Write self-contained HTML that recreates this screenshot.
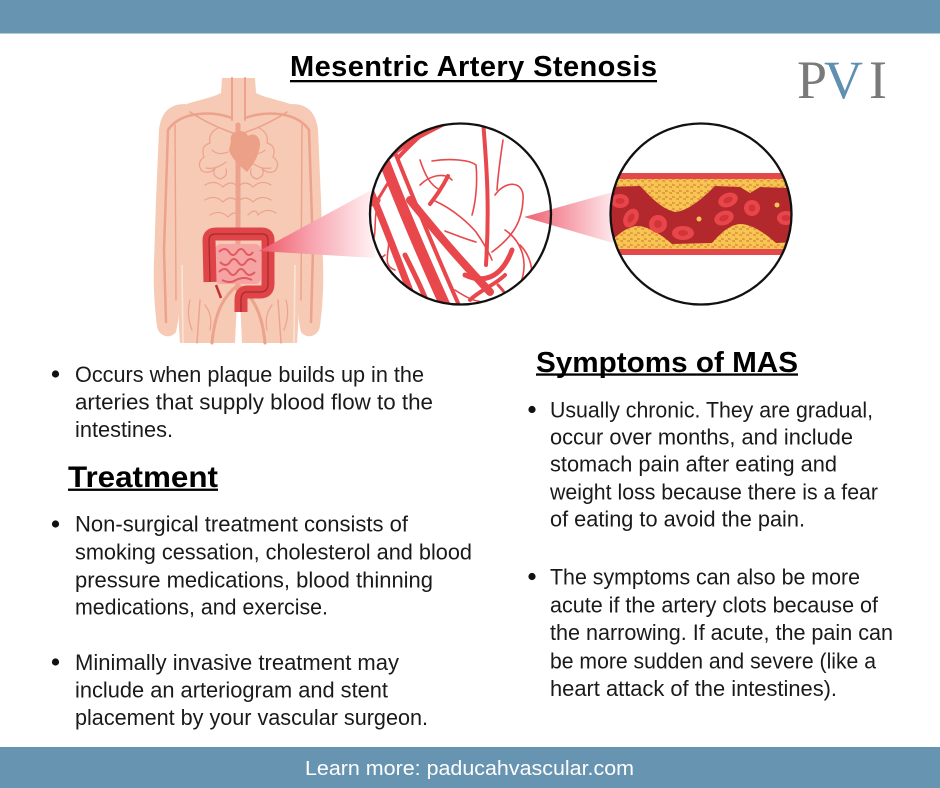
<!DOCTYPE html>
<html>
<head>
<meta charset="utf-8">
<style>
  html,body{margin:0;padding:0;background:#fff;}
  body{width:940px;height:788px;overflow:hidden;}
  svg{display:block;}
  .t{font-family:"Liberation Sans",Arial,sans-serif;font-size:22px;fill:#1a1a1a;}
  .h{font-family:"Liberation Sans",Arial,sans-serif;font-weight:700;fill:#000;}
</style>
</head>
<body>
<svg width="940" height="788" viewBox="0 0 940 788" xmlns="http://www.w3.org/2000/svg">
  <defs>
    <linearGradient id="beam1" x1="259" y1="0" x2="374" y2="0" gradientUnits="userSpaceOnUse">
      <stop offset="0" stop-color="#ee5566"/>
      <stop offset="0.45" stop-color="#f7a3ae"/>
      <stop offset="1" stop-color="#fff2f4"/>
    </linearGradient>
    <linearGradient id="beam2" x1="524" y1="0" x2="612" y2="0" gradientUnits="userSpaceOnUse">
      <stop offset="0" stop-color="#f06070"/>
      <stop offset="0.5" stop-color="#f6a0ab"/>
      <stop offset="1" stop-color="#fde6ea"/>
    </linearGradient>
    <clipPath id="c1"><circle cx="460.5" cy="214" r="90"/></clipPath>
    <clipPath id="c2"><circle cx="701" cy="214" r="90"/></clipPath>
    <pattern id="pl" width="7" height="6" patternUnits="userSpaceOnUse">
      <rect width="7" height="6" fill="#e49a45"/>
      <circle cx="1.75" cy="1.5" r="2.6" fill="#f6c650"/>
      <circle cx="5.25" cy="4.5" r="2.6" fill="#f6c650"/>
    </pattern>
  </defs>

  <rect width="940" height="788" fill="#fff"/>
  <rect x="0" y="0" width="940" height="33.5" fill="#6794b0"/>
  <rect x="0" y="747" width="940" height="41" fill="#6794b0"/>

  <!-- Title -->
  <text class="h" x="290" y="76" font-size="29" textLength="367" lengthAdjust="spacing">Mesentric Artery Stenosis</text>
  <rect x="290" y="80" width="367" height="2.3" fill="#000"/>

  <!-- PVI logo -->
  <text x="797" y="98" font-family="'Liberation Serif','Times New Roman',serif" font-size="54"><tspan fill="#7a7a7a">P</tspan><tspan x="824" fill="#5f90b2">V</tspan><tspan x="869" fill="#7a7a7a">I</tspan></text>

  <!-- ===== Body figure ===== -->
  <g fill="#f6cab4">
    <path d="M185,104 C170,104 161,112 159,130 L156,200 L154,262 C153,290 155,310 157,326 C158,336 170,340 176,332 C179,320 180,300 181,285 L186,230 Z"/>
    <path d="M292,104 C307,104 316,112 318,130 L321,200 L323,262 C324,290 322,310 320,326 C319,336 307,340 301,332 C298,320 297,300 296,285 L291,230 Z"/>
    <path d="M222,78 L255,78 L256,93 C268,99 284,101 296,106 L296,230 C297,250 298,270 298,290 C299,310 298,330 297,343 L242,343 L240,300 L237,300 L235,343 L180,343 C179,330 178,310 179,290 C179,270 180,250 181,230 L181,106 C193,101 209,99 221,93 Z"/>
  </g>
  <g stroke="#fbe3d8" stroke-width="1.6" fill="none">
    <path d="M182,265 L183,343"/>
    <path d="M295,265 L294,343"/>
  </g>
  <g stroke="#eca28c" fill="none" stroke-linecap="round">
    <path d="M238,125 L238,290" stroke-width="5"/>
    <path d="M232,78 L232,120 M245,78 L245,120" stroke-width="2"/>
    <path d="M232,118 C210,110 180,112 168,130 L164,250 L166,322" stroke-width="2.5"/>
    <path d="M245,118 C267,110 297,112 309,130 L313,250 L311,322" stroke-width="2.5"/>
    <path d="M175,125 L176,300 M302,125 L301,300" stroke-width="1.4"/>
    <path d="M238,285 C225,295 215,310 212,343 M238,285 C251,295 262,310 265,343" stroke-width="3"/>
    <path d="M200,300 L197,343 M278,300 L281,343" stroke-width="1.4"/>
    <path d="M190,112 C210,125 225,130 238,135 M287,112 C267,125 252,130 238,135" stroke-width="1.6"/>
    <g stroke-width="1.2">
      <path d="M218,128 q-10,5 -8,15 q-10,3 -6,14 q-8,6 -2,14 q8,4 14,-4 q-6,8 4,12 q8,-2 6,-10 M212,150 q6,6 16,2 M206,168 q10,2 20,-6"/>
      <path d="M259,128 q10,5 8,15 q10,3 6,14 q8,6 2,14 q-8,4 -14,-4 q6,8 -4,12 q-8,-2 -6,-10 M265,150 q-6,6 -16,2 M271,168 q-10,2 -20,-6"/>
      <path d="M205,185 q10,-6 18,2 q8,-8 15,0 q7,-8 15,0 q8,-8 18,-2 M205,200 q10,-6 18,2 q8,-8 15,0 q7,-8 15,0 q8,-8 18,-2 M210,215 q10,-6 18,2 q8,-8 10,0 M248,215 q8,-8 10,0 q8,-8 18,-2"/>
      <path d="M190,300 q-4,15 2,30 M286,300 q4,15 -2,30 M205,305 q8,10 5,25 M272,305 q-8,10 -5,25"/>
    </g>
  </g>
  <path d="M231,141 C228,131 244,127 248,136 C255,131 263,139 259,150 C257,160 251,167 247,172 C240,166 231,158 229,150 Z" fill="#eda088"/>
  <rect x="215" y="244" width="46" height="40" rx="6" fill="#f6a3a3"/>
  <path d="M219,252 q6,-6 10,0 q4,6 8,0 q4,-6 8,0 q4,6 8,0 M220,262 q6,6 10,0 q4,-6 8,0 q4,6 8,0 q4,-6 10,0 M219,272 q6,-6 10,0 q4,6 8,0 q4,-6 8,0 q4,6 10,0 M222,280 q8,4 14,0 q8,-4 16,0" stroke="#e05a5e" stroke-width="2" fill="none"/>
  <path d="M210,282 L209,240 Q209,234 216,234 L262,234 Q268,234 268,240 L268,284 Q268,292 260,292 L247,292 Q241,292 241,300 L241,312" stroke="#df4548" stroke-width="13" fill="none" stroke-linejoin="round"/>
  <path d="M210,282 L209,240 Q209,234 216,234 L262,234 Q268,234 268,240 L268,284 Q268,292 260,292 L247,292 Q241,292 241,300 L241,312" stroke="#a82a2c" stroke-width="1.3" fill="none"/>
  <path d="M216,285 L221,298" stroke="#c23234" stroke-width="2.5"/>

  <!-- Beam 1 -->
  <polygon points="259,251 375,188 375,258" fill="url(#beam1)"/>

  <!-- Circle 1 -->
  <circle cx="460.5" cy="214" r="90" fill="#fff"/>
  <g clip-path="url(#c1)" stroke="#e8484c" fill="none" stroke-linecap="round">
    <path d="M380,150 C395,190 420,250 448,312" stroke-width="11"/>
    <path d="M394,150 C410,190 432,245 462,312" stroke-width="4"/>
    <path d="M368,185 C385,225 400,265 418,312" stroke-width="7"/>
    <path d="M410,200 C430,225 455,255 490,292" stroke-width="8"/>
    <path d="M383,162 C405,140 435,128 458,116" stroke-width="6"/>
    <path d="M398,158 C412,142 428,130 440,116" stroke-width="4"/>
    <path d="M372,160 C380,150 388,140 398,130" stroke-width="4"/>
    <path d="M483,120 C486,160 490,200 486,265" stroke-width="4"/>
    <path d="M448,176 C442,188 436,196 430,204" stroke-width="4"/>
    <path d="M465,275 C480,282 500,282 512,250" stroke-width="5"/>
    <path d="M405,255 C415,275 425,295 432,315" stroke-width="5"/>
    <path d="M498,285 C505,292 510,300 514,312" stroke-width="3"/>
    <path d="M372,205 C380,200 385,185 392,178" stroke-width="3"/>
    <path d="M470,300 C480,290 495,285 505,275" stroke-width="4"/>
    <g stroke-width="1.6">
      <path d="M495,195 C505,180 525,180 523,200 C522,220 515,235 492,252"/>
      <path d="M432,161 C450,158 470,160 476,165 C478,185 475,205 472,215"/>
      <path d="M435,201 C455,210 470,225 476,232 C485,245 490,255 492,260"/>
      <path d="M445,231 C458,236 468,240 476,242"/>
      <path d="M380,200 C372,215 378,230 372,245 C368,255 378,262 385,255"/>
      <path d="M388,230 C392,250 380,265 395,270"/>
      <path d="M420,185 C430,175 445,172 452,180"/>
      <path d="M505,230 C520,240 530,260 520,285"/>
      <path d="M455,290 C470,300 480,305 500,300"/>
      <path d="M503,140 C500,160 498,175 497,190"/>
      <path d="M520,245 C530,255 535,270 530,290"/>
      <path d="M420,160 C425,175 430,185 440,190"/>
      <path d="M375,270 C385,280 395,285 402,300"/>
    </g>
  </g>
  <polygon points="524,217 613,192 613,243" fill="url(#beam2)"/>
  <circle cx="460.5" cy="214" r="90.5" fill="none" stroke="#111" stroke-width="2.3"/>

  <!-- Circle 2 -->
  <circle cx="701" cy="214" r="90" fill="#fff"/>
  <g clip-path="url(#c2)">
    <rect x="600" y="173" width="202" height="82" fill="#e3484b"/>
    <rect x="600" y="179" width="202" height="70" fill="#b2282d"/>
    <path d="M600,179 L802,179 L802,187 L790,188 L760,187 L750,193 L740,187 L715,186 C705,196 690,210 676,212 C662,210 650,196 640,186 L600,187 Z" fill="url(#pl)"/>
    <path d="M600,249 L802,249 L802,242 L776,243 C766,234 752,224 740,224 C728,225 718,236 712,243 L672,244 C662,235 648,226 637,226 C626,227 618,235 610,242 L600,243 Z" fill="url(#pl)"/>
    <g fill="#e8464b">
      <ellipse cx="620" cy="201" rx="9" ry="7"/>
      <ellipse cx="631" cy="218" rx="7" ry="10" transform="rotate(30 631 218)"/>
      <circle cx="658" cy="224" r="9"/>
      <ellipse cx="683" cy="233" rx="11" ry="7"/>
      <ellipse cx="728" cy="200" rx="10" ry="7" transform="rotate(-20 728 200)"/>
      <circle cx="752" cy="208" r="8"/>
      <ellipse cx="724" cy="218" rx="10" ry="7" transform="rotate(-20 724 218)"/>
      <ellipse cx="786" cy="218" rx="9" ry="7"/>
    </g>
    <g fill="#d1353a">
      <ellipse cx="620" cy="201" rx="4.5" ry="3"/>
      <ellipse cx="631" cy="218" rx="3" ry="5" transform="rotate(30 631 218)"/>
      <circle cx="658" cy="224" r="4"/>
      <ellipse cx="683" cy="233" rx="5" ry="3"/>
      <ellipse cx="728" cy="200" rx="5" ry="3" transform="rotate(-20 728 200)"/>
      <circle cx="752" cy="208" r="3.5"/>
      <ellipse cx="724" cy="218" rx="5" ry="3" transform="rotate(-20 724 218)"/>
      <ellipse cx="786" cy="218" rx="4.5" ry="3"/>
    </g>
    <circle cx="699" cy="219" r="2.5" fill="#f6c650"/>
    <circle cx="777" cy="205" r="2.5" fill="#f6c650"/>
  </g>
  <circle cx="701" cy="214" r="90.5" fill="none" stroke="#111" stroke-width="2.3"/>

  <!-- bullets -->
  <g fill="#111">
    <circle cx="55.5" cy="374" r="3.6"/>
    <circle cx="55.5" cy="524" r="3.6"/>
    <circle cx="55.5" cy="662" r="3.6"/>
    <circle cx="532" cy="409.5" r="3.6"/>
    <circle cx="532" cy="576.5" r="3.6"/>
  </g>

  <!-- Left column -->
  <text class="t" x="75" y="382" textLength="349" lengthAdjust="spacingAndGlyphs">Occurs when plaque builds up in the</text>
  <text class="t" x="75" y="409.5" textLength="358" lengthAdjust="spacingAndGlyphs">arteries that supply blood flow to the</text>
  <text class="t" x="75" y="437" textLength="98" lengthAdjust="spacingAndGlyphs">intestines.</text>

  <text class="h" x="68" y="487" font-size="30" textLength="150" lengthAdjust="spacingAndGlyphs">Treatment</text>
  <rect x="68" y="488.6" width="150" height="2.3" fill="#000"/>

  <text class="t" x="75" y="531.7" textLength="333" lengthAdjust="spacingAndGlyphs">Non-surgical treatment consists of</text>
  <text class="t" x="75" y="559.3" textLength="397" lengthAdjust="spacingAndGlyphs">smoking cessation, cholesterol and blood</text>
  <text class="t" x="75" y="587.3" textLength="358" lengthAdjust="spacingAndGlyphs">pressure medications, blood thinning</text>
  <text class="t" x="75" y="614.3" textLength="253" lengthAdjust="spacingAndGlyphs">medications, and exercise.</text>

  <text class="t" x="75" y="670" textLength="324" lengthAdjust="spacingAndGlyphs">Minimally invasive treatment may</text>
  <text class="t" x="75" y="697.7" textLength="313" lengthAdjust="spacingAndGlyphs">include an arteriogram and stent</text>
  <text class="t" x="75" y="725" textLength="353" lengthAdjust="spacingAndGlyphs">placement by your vascular surgeon.</text>

  <!-- Right column -->
  <text class="h" x="536" y="372" font-size="29" textLength="262" lengthAdjust="spacingAndGlyphs">Symptoms of MAS</text>
  <rect x="536" y="373.4" width="262" height="2.3" fill="#000"/>

  <text class="t" x="550" y="417.3" textLength="323" lengthAdjust="spacingAndGlyphs">Usually chronic. They are gradual,</text>
  <text class="t" x="550" y="444.3" textLength="303" lengthAdjust="spacingAndGlyphs">occur over months, and include</text>
  <text class="t" x="550" y="471.7" textLength="287" lengthAdjust="spacingAndGlyphs">stomach pain after eating and</text>
  <text class="t" x="550" y="499.3" textLength="328" lengthAdjust="spacingAndGlyphs">weight loss because there is a fear</text>
  <text class="t" x="550" y="526.7" textLength="255" lengthAdjust="spacingAndGlyphs">of eating to avoid the pain.</text>

  <text class="t" x="550" y="584.3" textLength="310" lengthAdjust="spacingAndGlyphs">The symptoms can also be more</text>
  <text class="t" x="550" y="612.7" textLength="328" lengthAdjust="spacingAndGlyphs">acute if the artery clots because of</text>
  <text class="t" x="550" y="640" textLength="343" lengthAdjust="spacingAndGlyphs">the narrowing. If acute, the pain can</text>
  <text class="t" x="550" y="668.3" textLength="326" lengthAdjust="spacingAndGlyphs">be more sudden and severe (like a</text>
  <text class="t" x="550" y="696" textLength="287" lengthAdjust="spacingAndGlyphs">heart attack of the intestines).</text>

  <!-- footer -->
  <text x="305" y="775" font-family="'Liberation Sans',Arial,sans-serif" font-size="20.5" fill="#fff" textLength="329" lengthAdjust="spacingAndGlyphs">Learn more: paducahvascular.com</text>
</svg>
</body>
</html>
